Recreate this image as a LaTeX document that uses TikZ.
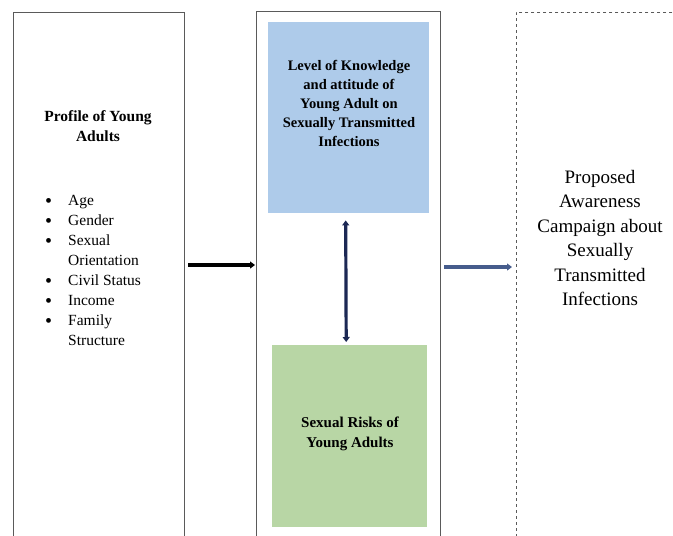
\documentclass[tikz,border=0pt]{standalone}
\usepackage{fontspec}
\setmainfont{Liberation Serif}
\usetikzlibrary{arrows.meta,calc}
\definecolor{frame}{RGB}{90,90,90}
\definecolor{bluefill}{RGB}{174,203,234}
\definecolor{greenfill}{RGB}{184,214,165}
\definecolor{navy}{RGB}{28,40,84}
\definecolor{steel}{RGB}{70,92,140}
\newcommand{\bigbul}{\raisebox{-2pt}{\fontsize{20}{20}\selectfont\textbullet}}
\begin{document}
\begin{tikzpicture}[x=1pt,y=-1pt,
  outerbox/.style={draw=frame,line width=1.2pt,anchor=north west,inner sep=0pt},
  dashbox/.style={draw=frame,dashed,line width=0.6pt,anchor=north west,inner sep=0pt},
  fillbox/.style={anchor=north west,inner sep=0pt,draw=none},
  boldtxt/.style={font=\bfseries\fontsize{14.5}{19}\selectfont,align=center,inner sep=0pt},
  listtxt/.style={font=\fontsize{15.5}{20}\selectfont,align=left,inner sep=0pt,anchor=north west},
  bigtxt/.style={font=\fontsize{19}{24.5}\selectfont,align=center,inner sep=0pt},
  arr/.style={-{Triangle[length=5pt,width=7pt]},line width=3.2pt}
]
\useasboundingbox (0,0) rectangle (673,536);
\clip (0,0) rectangle (673,536);
% outer boxes
\node[outerbox,minimum width=171pt,minimum height=560pt] (left) at (13,12) {};
\node[outerbox,minimum width=184pt,minimum height=560pt] (mid) at (256,11) {};
\node[dashbox,minimum width=200pt,minimum height=560pt] (right) at (516,12) {};
% inner boxes
\node[fillbox,fill=bluefill,minimum width=161pt,minimum height=191pt] (know) at (268,22) {};
\node[fillbox,fill=greenfill,minimum width=155pt,minimum height=182pt] (risk) at (272,345) {};
% texts
\node[boldtxt,font=\bfseries\fontsize{15.5}{20}\selectfont] (ptitle) at (98,126) {Profile of Young\\Adults};
\node[listtxt] (plist) at (45,191) {%
\begin{tabular}{@{}l@{\hspace{16pt}}l@{}}
\bigbul & Age\\
\bigbul & Gender\\
\bigbul & Sexual\\
 & Orientation\\
\bigbul & Civil Status\\
\bigbul & Income\\
\bigbul & Family\\
 & Structure
\end{tabular}};
\node[boldtxt] (ktext) at (349,103) {Level of Knowledge\\and attitude of\\Young Adult on\\Sexually Transmitted\\Infections};
\node[boldtxt,font=\bfseries\fontsize{15}{20}\selectfont] (rtext) at (350,434) {Sexual Risks of\\Young Adults};
\node[bigtxt] (ctext) at (600,238) {Proposed\\Awareness\\Campaign about\\Sexually\\Transmitted\\Infections};
% arrows
\coordinate (ya) at (0,265);
\coordinate (yb) at (0,267);
\draw[arr,black] ($(left.east|-ya)+(3,0)$) -- ($(mid.west|-ya)+(-1,0)$);
\draw[arr,steel] ($(mid.east|-yb)+(3,0)$) -- ($(right.west|-yb)+(-4,0)$);
\draw[{Triangle[length=5pt,width=7pt]}-{Triangle[length=5pt,width=7pt]},line width=3.2pt,navy] ($(know.south)+(-3,7)$) -- ($(risk.north)+(-3.5,-3)$);
\end{tikzpicture}
\end{document}
